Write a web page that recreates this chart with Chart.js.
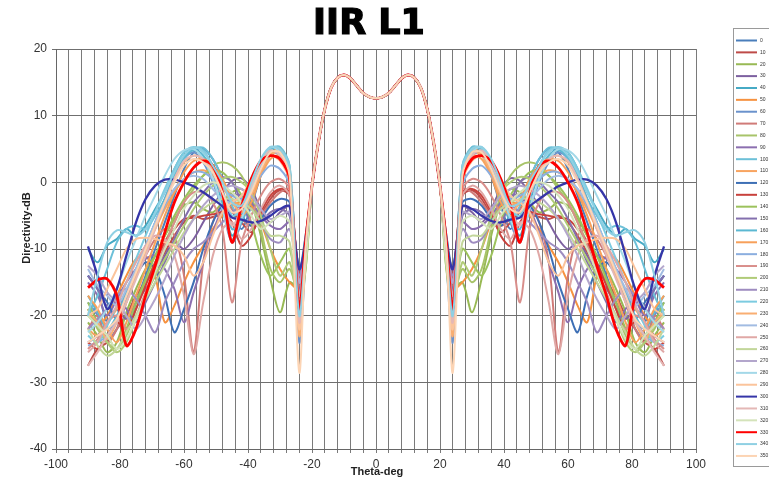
<!DOCTYPE html>
<html>
<head>
<meta charset="utf-8">
<script src="https://cdn.jsdelivr.net/npm/chart.js@4.4.0/dist/chart.umd.min.js"></script>
<style>
  html, body { margin: 0; padding: 0; background: #fff; }
  #wrap { width: 769px; height: 479px; }
</style>
</head>
<body>
<div id="wrap"><canvas id="pattern" width="769" height="479"></canvas></div>
<script>
// theta samples (deg) for the main beam and for each side of it
const thetaMain = [-20, -18, -16, -14, -12, -10, -8, -6, -4, -2, 0, 2, 4, 6, 8, 10, 12, 14, 16, 18, 20];
const thetaSide = [22, 24, 27, 30, 33, 36, 39, 42, 45, 48, 51, 54, 57, 60, 63, 66, 69, 72, 75, 78, 81, 84, 87, 90];

// main beam, identical in every phi cut (dB)
const mainLobe = [-0.5, 6, 11, 14.2, 15.7, 16.1, 15.6, 14.5, 13.4, 12.8, 12.6, 12.8, 13.4, 14.5, 15.6, 16.1, 15.7, 14.2, 11, 6, -0.5];

// side lobes per phi cut, at thetaSide (dB)
const phi0   = [-10, -18, 2, 5.2, 4.3, 1, -3.5, -7, -4, 0.5, 3.5, 5, 4.5, 2, -2, -6, -10, -14, -18, -22, -19, -21, -16, -14];
const phi10  = [-9, -14, -2, -1.2, -2.5, -5, -7.5, -6, -4.5, -4.8, -5.2, -5.5, -5, -6, -8, -10.5, -13, -15, -17, -20, -22, -24, -25, -27.5];
const phi20  = [-12, -16, -15, -19.5, -14.5, -8, -3, -1, -1.5, -3, -4.5, -4, -3, -3.5, -5.5, -8, -11, -13, -16, -19.5, -24, -25.5, -23, -21];
const phi30  = [-10, -13, -3.6, -4.5, -6, -4, -1, 0.6, 0.2, -1.5, -3.5, -6, -8.5, -10, -9, -11, -14, -16, -18, -20.5, -19, -21, -23, -24];
const phi40  = [-11, -22, 0.5, 4.5, 5, 2.5, -1, -5, -8, -3, 1.5, 4, 5, 4.5, 2, -1.5, -4, -6.5, -8, -7, -8.5, -9.5, -12, -10];
const phi50  = [-10, -16, -15, -13, -10, -6, -3.5, -3, -3.5, -5, -7, -9.5, -12, -15, -18.5, -21, -14, -11, -11.5, -14, -17, -20, -21.5, -19];
const phi60  = [-12, -24, 1, 4, 4.5, 2, -2, -6, -9, -4, 0, 3, 4.5, 3.5, 1, -2.5, -6, -10, -14, -17, -22, -23.5, -20, -18];
const phi70  = [-8, -15, -1, -1.5, -3, -5, -6.5, -5.5, -4, -3.5, -6, -12, -25.5, -14, -8, -7, -8.5, -11, -14, -18, -22, -24, -20, -22];
const phi80  = [-13, -17, -13, -15, -13, -7, -2, 1, 2.5, 3, 2.5, 1, -1, -3, -6, -9, -12, -15, -19, -23, -25, -24, -22, -19];
const phi90  = [-11, -15, -6, -7, -6.5, -5, -3, -2, -2, -4, -7.5, -12, -16.5, -21, -16, -13, -11, -11.5, -13, -15, -17.5, -20, -17, -15];
const phi100 = [-10, -19, 2.5, 5.3, 5, 2.5, -1.5, -5.5, -3.5, 0.5, 3.5, 5.2, 5, 3.5, 0.5, -2.5, -5, -7, -6.5, -7, -9, -13, -17, -20];
const phi110 = [-11, -20, 1.5, 4, 3.5, 1, -2, -3.5, -2.5, -0.5, 1, 1.8, 1.5, 0.5, -1.5, -4, -7, -10, -13.5, -16.5, -19, -21, -23, -22];
const phi120 = [-8, -13, -3, -2.5, -3.5, -5.5, -6.5, -5, -3, -3.5, -6, -10, -15, -19, -22.5, -17, -13, -12, -14, -17, -20.5, -18, -16, -14];
const phi130 = [-9, -14, -1.5, -1, -2, -4.5, -8, -9.5, -6, -4.5, -4.8, -5, -5.3, -5.5, -7, -9, -12, -15.5, -19, -22, -21, -23, -25, -24];
const phi140 = [-12, -18, -10, -12, -14, -11, -6, -2, 0, 1.5, 1.8, 1, -0.5, -2.5, -5, -8, -11, -14.5, -18, -22, -25, -23, -21, -18];
const phi150 = [-10, -16, -5, -4, -4.5, -6, -6, -3, 0, 0.8, 0, -1.5, -3, -5.5, -8.5, -12, -15, -18, -21, -19, -17, -18.5, -16, -14];
const phi160 = [-10, -21, 1, 4.2, 4.6, 2, -2, -6, -7, -2.5, 1.5, 4, 4.8, 3.8, 1, -2.5, -6, -9.5, -13, -16.5, -20, -22, -19.5, -17];
const phi170 = [-11, -22, 2, 5, 4.2, 1, -3, -5, -2.5, 0.5, 2.5, 3.5, 3.2, 1.5, -1.5, -5, -9, -13, -17, -21, -24, -22, -19, -17];
const phi180 = [-10, -17, -0.5, 2, 2.5, 1, -1, -2.5, -2, -1, 0.5, 1.5, 1.5, 0.5, -1, -3.5, -6.5, -10, -13.5, -17, -20.5, -23, -24, -24.5];
const phi190 = [-9, -15, -1, 0.5, 0, -2, -5, -9, -18, -7, -3, -1.5, -1.5, -3, -6, -9.5, -13, -16.5, -20, -22, -20, -21, -23.5, -25];
const phi200 = [-13, -19, -12, -14, -10, -5, -1.5, 0, 0.8, 0.5, -0.5, -2, -4, -6.5, -9, -11.5, -14, -17, -20.5, -24, -25.5, -24, -21.5, -20];
const phi210 = [-9, -14, -7, -9, -8.5, -6, -4, -3.5, -4.5, -6, -7.5, -9, -10, -12, -15, -18, -22.5, -20, -17.5, -16, -17, -19, -20.5, -22];
const phi220 = [-10, -20, 2.5, 5, 5.2, 3, -0.5, -4, -5, -1, 2.5, 4.8, 5.3, 4.5, 2, -1, -4.5, -8, -11.5, -15, -18.5, -21.5, -24, -23];
const phi230 = [-11, -23, 1.8, 4.6, 4, 1.5, -2, -4.5, -3, -0.5, 2, 3.5, 4, 3, 0.5, -3, -6.5, -10.5, -14, -18, -21, -23.5, -21, -19.5];
const phi240 = [-10, -19, 0.5, 3.5, 4, 2.5, 0, -2, -3, -2.5, -1, 0.5, 1, 0.5, -1, -3, -6, -9.5, -13, -16, -18.5, -17, -15.5, -13];
const phi250 = [-9, -17, -2, -0.5, -1.5, -4, -7, -8.5, -6, -7, -11, -18, -25.8, -17, -11, -8.5, -8, -9.5, -12, -15, -18.5, -21, -24, -25.5];
const phi260 = [-12, -20, -9, -8, -8, -6, -4, -3, -2.5, -2.5, -3, -4, -5.5, -7.5, -10, -12.5, -15, -17.5, -20, -22.5, -25, -26, -24.5, -22];
const phi270 = [-10, -15, -4.5, -5, -5.5, -4, -2, -1, -0.5, -1, -2, -3.5, -5.5, -8, -11, -14.5, -17.5, -20, -22, -20, -18, -16.5, -14, -12.5];
const phi280 = [-11, -21, 1, 4.5, 5.3, 3, -1, -5.5, -8.5, -4, 0.5, 3.5, 5, 4.8, 3.5, 1, -2, -5, -8.5, -12, -16, -19, -21, -22.5];
const phi290 = [-10, -22, 0, 3.2, 4, 3, 0.5, -2, -3, -4.5, -8, -12, -14, -11, -9.5, -9, -8.5, -8.3, -8.5, -10, -13, -16, -19, -20];
const phi300 = [-9, -13, -3.6, -4, -5, -5.8, -6, -5.6, -5.3, -3.6, -2.5, -1.5, -0.6, 0, 0.4, 0.4, -0.5, -2.5, -6, -11, -16, -19, -14, -9.6];
const phi310 = [-11, -21, 0.5, 4, 4.8, 3, -0.5, -4, -6.5, -2, 1.5, 3.5, 4, 3.2, 0.5, -3, -7, -11, -14.5, -18, -21, -23, -25.5, -27.5];
const phi320 = [-12, -18, -6, -5, -6, -7, -5, -3, -1.5, -0.5, 0, -0.5, -2, -4, -7, -10, -13.5, -17, -20.5, -23.5, -25, -23, -21.5, -20];
const phi330 = [-9, -19, 0.5, 3.5, 4, 3.2, 0.5, -3.5, -9, -1.5, 2.5, 3.2, 2.2, 0, -3, -7.5, -12.5, -17, -22, -24.5, -17, -14.5, -14.6, -15.8];
const phi340 = [-10, -20, 2, 5, 5.3, 3.5, 0, -3.5, -3, 0, 2.5, 4.5, 5.2, 4, 1.5, -1.5, -4.5, -7, -8, -7.5, -7.2, -9, -14, -20];
const phi350 = [-10, -28.5, 1, 4.5, 4.5, 2, -1.5, -4, -4.5, -1.5, 1.5, 3, 3.5, 2.5, 0, -3, -6.5, -10, -13.5, -17, -20.5, -22, -23, -24];

const phiLabels = ['0', '10', '20', '30', '40', '50', '60', '70', '80', '90', '100', '110', '120', '130', '140', '150', '160', '170',
  '180', '190', '200', '210', '220', '230', '240', '250', '260', '270', '280', '290', '300', '310', '320', '330', '340', '350'];
const sideLobes = [phi0, phi10, phi20, phi30, phi40, phi50, phi60, phi70, phi80, phi90, phi100, phi110, phi120, phi130, phi140, phi150, phi160, phi170,
  phi180, phi190, phi200, phi210, phi220, phi230, phi240, phi250, phi260, phi270, phi280, phi290, phi300, phi310, phi320, phi330, phi340, phi350];
const lineColors = ['#4a7ebb', '#be4b48', '#98b954', '#7d60a0', '#46aac5', '#f69240', '#6a92cc', '#d07b78', '#a8c46a', '#8c6fb0', '#6cc0d8', '#f8a460',
  '#3d6fb5', '#c8413c', '#9cc25c', '#8470ae', '#5bb8d2', '#f7a05a', '#8baedf', '#d98e8b', '#b0cb78', '#9e8cc0', '#7ccbe0', '#f9ae72',
  '#a2bce2', '#e0a8a6', '#c2d69a', '#b3a6cc', '#a3d8e8', '#fbc49c', '#3535a8', '#e4b8b6', '#d4e3ba', '#ff0000', '#8fd0e3', '#fcd4b4'];

// a cut is symmetric about theta = 0: mirrored side lobes + common main beam
function cutPoints(side) {
  const pts = [];
  for (let i = thetaSide.length - 1; i >= 0; i--) pts.push({ x: -thetaSide[i], y: side[i] });
  thetaMain.forEach((t, i) => pts.push({ x: t, y: mainLobe[i] }));
  thetaSide.forEach((t, i) => pts.push({ x: t, y: side[i] }));
  return pts;
}

const datasets = sideLobes.map((side, k) => ({
  label: phiLabels[k],
  data: cutPoints(side),
  borderColor: lineColors[k],
  borderWidth: phiLabels[k] === '330' ? 2.8 : (phiLabels[k] === '300' ? 2.3 : 2),
  pointRadius: 0,
  tension: 0.3,
  fill: false,
  order: sideLobes.length - 1 - k
}));

// title, axis titles and the side legend
const decorations = {
  id: 'decorations',
  afterDraw(chart) {
    const c = chart.ctx;
    c.save();
    c.fillStyle = '#000';
    c.strokeStyle = '#000';
    c.lineWidth = 1.2;
    c.textAlign = 'center';
    c.textBaseline = 'alphabetic';
    c.font = 'bold 35px "DejaVu Sans"';
    c.fillText('IIR L1', 369, 34);
    c.strokeText('IIR L1', 369, 34);

    c.fillStyle = '#222';
    c.font = 'bold 11px "Liberation Sans", Arial';
    c.textBaseline = 'middle';
    c.fillText('Theta-deg', 377, 472);
    c.translate(27, 228);
    c.rotate(-Math.PI / 2);
    c.fillText('Directivity-dB', 0, 0);
    c.restore();

    c.save();
    c.fillStyle = '#fff';
    c.strokeStyle = '#9a9a9a';
    c.lineWidth = 1;
    c.fillRect(733.5, 28.5, 60, 438);
    c.strokeRect(733.5, 28.5, 60, 438);
    c.font = '5px "Liberation Sans", Arial';
    c.textAlign = 'left';
    c.textBaseline = 'middle';
    phiLabels.forEach((lab, k) => {
      const y = 40.5 + k * 11.87;
      c.strokeStyle = lineColors[k];
      c.lineWidth = 2;
      c.beginPath();
      c.moveTo(736, y);
      c.lineTo(757, y);
      c.stroke();
      c.fillStyle = '#333';
      c.fillText(lab, 760, y);
    });
    c.restore();
  }
};

new Chart(document.getElementById('pattern'), {
  type: 'line',
  data: { datasets: datasets },
  options: {
    responsive: false,
    animation: false,
    devicePixelRatio: 1,
    layout: { padding: { top: 49, right: 73, left: 0, bottom: 0 } },
    plugins: { legend: { display: false }, title: { display: false }, tooltip: { enabled: false } },
    scales: {
      x: {
        type: 'linear',
        min: -100,
        max: 100,
        afterFit: s => { s.height = 30; },
        ticks: {
          stepSize: 4,
          autoSkip: false,
          maxRotation: 0,
          padding: 4,
          color: '#333',
          font: { family: '"Liberation Sans", Arial', size: 12 },
          callback: v => (v % 20 === 0 ? String(v) : '')
        },
        grid: { color: '#7a7a7a', lineWidth: 1, tickLength: 4 },
        border: { color: '#666' }
      },
      y: {
        min: -40,
        max: 20,
        afterFit: s => { s.width = 56; },
        ticks: {
          stepSize: 10,
          padding: 5,
          color: '#333',
          font: { family: '"Liberation Sans", Arial', size: 12 }
        },
        grid: { color: '#6f6f6f', lineWidth: 1, tickLength: 4 },
        border: { color: '#666' }
      }
    }
  },
  plugins: [decorations]
});
</script>
</body>
</html>
